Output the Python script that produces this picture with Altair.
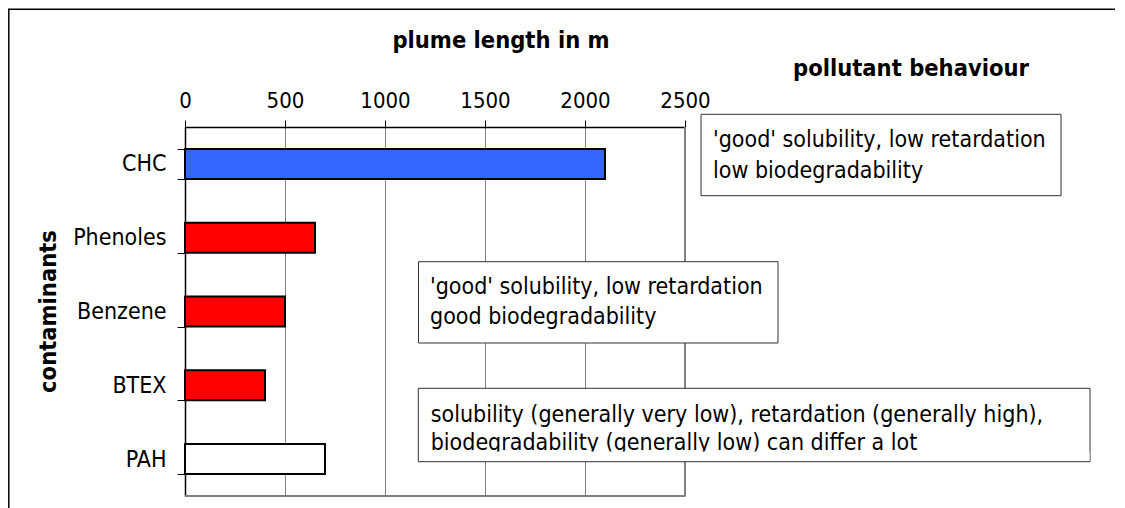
import altair as alt
import pandas as pd

# ---- data ----
contaminants = ["CHC", "Phenoles", "Benzene", "BTEX", "PAH"]
plume_length = [2100, 650, 500, 400, 700]
bar_colors = ["#3366FF", "#FF0000", "#FF0000", "#FF0000", "#FFFFFF"]
x_ticks = [0, 500, 1000, 1500, 2000, 2500]

x_title = "plume length in m"
y_title = "contaminants"
side_title = "pollutant behaviour"
box_texts = [
    ["'good' solubility, low retardation", "low biodegradability"],
    ["'good' solubility, low retardation", "good biodegradability"],
    ["solubility (generally very low), retardation (generally high),",
     "biodegradability (generally low) can differ a lot"],
]

FONT = "DejaVu Sans Condensed"
FS = 23
FSB = 23.5
W, H = 500, 369

df = pd.DataFrame({"contaminant": contaminants, "length": plume_length, "color": bar_colors})
one = pd.DataFrame({"k": [0]})

bars = alt.Chart(df).mark_bar(stroke="black", strokeWidth=2).encode(
    x=alt.X("length:Q", title=None,
            scale=alt.Scale(domain=[0, 2500], nice=False, zero=True),
            axis=alt.Axis(orient="top", values=x_ticks, format="d", grid=True,
                          gridColor="#808080", gridWidth=1,
                          domainColor="black", domainWidth=1.5,
                          tickColor="black", tickSize=7, tickWidth=1,
                          labelFont=FONT, labelFontSize=22, labelColor="black",
                          labelPadding=8, labelFlush=False)),
    y=alt.Y("contaminant:N", sort=contaminants, title=None,
            scale=alt.Scale(paddingInner=0.593, paddingOuter=0.2965),
            axis=alt.Axis(tickBand="extent", grid=False,
                          domainColor="black", domainWidth=1.5,
                          tickColor="black", tickSize=8, tickWidth=1,
                          labelFont=FONT, labelFontSize=FS, labelColor="black",
                          labelPadding=11)),
    fill=alt.Fill("color:N", scale=None),
)

def rule(x, x2, y, y2, color, width):
    return alt.Chart(one).mark_rule(color=color, strokeWidth=width).encode(
        x=alt.value(x), x2=alt.value(x2), y=alt.value(y), y2=alt.value(y2))

right_edge = rule(W, W, 0, H, "#808080", 2)
bottom_edge = rule(0, W, H, H, "#808080", 2)
frame_left = rule(-176.2, -176.2, -117.7, 420, "black", 1.5)
frame_top = rule(-178, 1000, -117.7, -117.7, "black", 1.5)

def box(x, x2, y, y2):
    return alt.Chart(one).mark_rect(fill="white", stroke="#333333", strokeWidth=1).encode(
        x=alt.value(x), x2=alt.value(x2), y=alt.value(y), y2=alt.value(y2))

def txt(lines, x, y, lh, size=FS, bold=False, align="left"):
    return alt.Chart(one).mark_text(
        align=align, baseline="alphabetic", font=FONT, fontSize=size,
        fontWeight="bold" if bold else "normal", lineHeight=lh, color="black"
    ).encode(x=alt.value(x), y=alt.value(y), text=alt.value(lines))

box1 = box(516, 876, -12.7, 68.7)
box2 = box(233.5, 593, 134.7, 216)
box3 = box(233.3, 905, 261.3, 334.7)
t1 = txt(box_texts[0], 528, 20, 31)
t2 = txt(box_texts[1], 245, 167, 30)
t3 = txt(box_texts[2], 245.7, 294.7, 28.5)
clip3 = alt.Chart(one).mark_rect(fill="white").encode(
    x=alt.value(234), x2=alt.value(904.5), y=alt.value(324.5), y2=alt.value(334))

xt = txt(x_title, 316, -79, 26, size=FSB, bold=True, align="center")
st = txt(side_title, 726, -51, 26, size=FSB, bold=True, align="center")
yt = alt.Chart(one).mark_text(
    align="center", baseline="middle", font=FONT, fontSize=FSB, fontWeight="bold",
    angle=270, color="black"
).encode(x=alt.value(-136), y=alt.value(184.5), text=alt.value(y_title))

chart = alt.layer(
    bars, right_edge, bottom_edge, frame_left, frame_top,
    box1, t1, box2, t2, box3, t3, clip3, xt, st, yt
).properties(
    width=W, height=H,
    autosize=alt.AutoSizeParams(type="none"),
    padding={"left": 177, "top": 119, "right": 430, "bottom": 14},
).configure_view(stroke=None).configure(background="white")

chart.save("out.html", embed_options={"renderer": "svg", "actions": False})
